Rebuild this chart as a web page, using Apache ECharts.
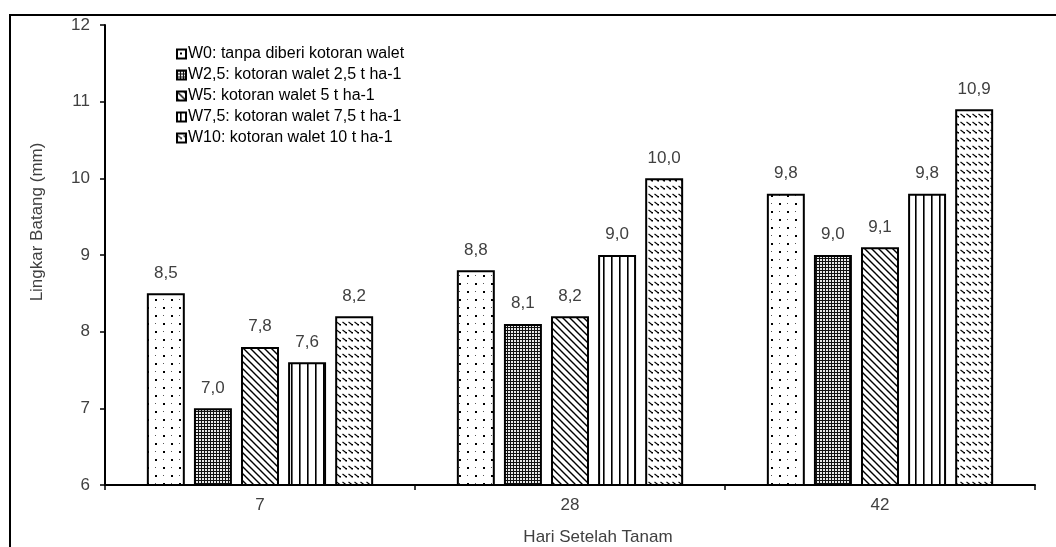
<!DOCTYPE html>
<html>
<head>
<meta charset="utf-8">
<script src="https://cdn.jsdelivr.net/npm/echarts@6/dist/echarts.min.js"></script>
<style>
  html, body { margin: 0; padding: 0; background: #fff; }
  #chart { width: 1056px; height: 547px; }
</style>
</head>
<body>
<div id="chart"></div>
<script>
// Days after planting (x categories)
const categories = ['7', '28', '42'];
// Treatment names shown in the legend
const seriesNames = [
  'W0: tanpa diberi kotoran walet',
  'W2,5: kotoran walet 2,5 t ha-1',
  'W5: kotoran walet 5 t ha-1',
  'W7,5: kotoran walet 7,5 t ha-1',
  'W10: kotoran walet 10 t ha-1'
];
// Stem circumference (mm) per treatment
const w0   = [8.5, 8.8, 9.8];
const w25  = [7.0, 8.1, 9.0];
const w5   = [7.8, 8.2, 9.1];
const w75  = [7.6, 9.0, 9.8];
const w10  = [8.2, 10.0, 10.9];
const yTicks = { min: 6, max: 12, interval: 1 };

// Hatch fills drawn on small tiles
function tile(w, h, draw) {
  const c = document.createElement('canvas');
  c.width = w; c.height = h;
  const g = c.getContext('2d');
  g.fillStyle = '#fff';
  g.fillRect(0, 0, w, h);
  draw(g);
  return { image: c, repeat: 'repeat' };
}
const patterns = [
  // sparse dots
  tile(16, 16, g => {
    g.fillStyle = '#000';
    g.fillRect(3, 3, 2, 2);
    g.fillRect(11, 11, 2, 2);
    g.fillStyle = '#555';
    g.fillRect(11, 3, 1, 1);
    g.fillRect(3, 11, 1, 1);
  }),
  // fine grid with light holes
  tile(3, 3, g => {
    g.fillStyle = '#111';
    g.fillRect(0, 0, 3, 3);
    g.fillStyle = '#e8e8e8';
    g.fillRect(1, 1, 2, 2);
  }),
  // diagonal lines (down to the right)
  tile(7, 7, g => {
    g.strokeStyle = '#000';
    g.lineWidth = 1.4;
    g.beginPath();
    g.moveTo(-1, -1); g.lineTo(8, 8);
    g.moveTo(-1, 6); g.lineTo(1, 8);
    g.moveTo(6, -1); g.lineTo(8, 1);
    g.stroke();
  }),
  // vertical lines
  tile(8, 8, g => {
    g.fillStyle = '#000';
    g.fillRect(3, 0, 1.6, 8);
  }),
  // short wavy dashes in rows
  tile(6, 8, g => {
    g.strokeStyle = '#000';
    g.lineWidth = 1.1;
    g.beginPath();
    g.moveTo(0.5, 2); g.lineTo(4.5, 5);
    g.stroke();
    g.fillStyle = '#000';
    g.fillRect(3.5, 4, 1.5, 1.5);
  })
];

const dataSets = [w0, w25, w5, w75, w10];
const textColor = '#404040';
const fontFamily = 'Liberation Sans, Arial, sans-serif';

const chart = echarts.init(document.getElementById('chart'), null, { renderer: 'canvas' });
chart.setOption({
  animation: false,
  backgroundColor: '#fff',
  textStyle: { fontFamily },
  graphic: [{
    type: 'rect',
    shape: { x: 10, y: 15, width: 1100, height: 600 },
    style: { fill: 'none', stroke: '#000', lineWidth: 2 },
    silent: true,
    z: -1
  }],
  legend: {
    orient: 'vertical',
    left: 171,
    top: 41,
    itemWidth: 9,
    itemHeight: 9,
    itemGap: 5,
    icon: 'rect',
    textStyle: { fontSize: 16, color: '#000', fontFamily, padding: [0, 0, 0, -3] },
    itemStyle: { borderColor: '#000', borderWidth: 2 },
    data: seriesNames
  },
  grid: {
    left: 105, right: 21, top: 25, bottom: 62,
    containLabel: false,
    outerBoundsMode: 'none'
  },
  xAxis: {
    type: 'category',
    data: categories,
    name: 'Hari Setelah Tanam',
    nameLocation: 'middle',
    nameGap: 44,
    nameTextStyle: { fontSize: 17, color: textColor, fontFamily, padding: [0, 0, 0, 56] },
    axisLine: { lineStyle: { color: '#000', width: 2 } },
    axisTick: { show: true, length: 5, lineStyle: { color: '#000', width: 1.5 } },
    axisLabel: { fontSize: 17, color: textColor, margin: 12 },
    splitLine: { show: false }
  },
  yAxis: {
    type: 'value',
    min: yTicks.min,
    max: yTicks.max,
    interval: yTicks.interval,
    name: 'Lingkar Batang (mm)',
    nameLocation: 'middle',
    nameGap: 59,
    nameTextStyle: { fontSize: 17, color: textColor, fontFamily, padding: [0, 0, 0, 66] },
    axisLine: { show: true, lineStyle: { color: '#000', width: 2 } },
    axisTick: { show: true, length: 5, lineStyle: { color: '#000', width: 1.5 } },
    axisLabel: { fontSize: 17, color: textColor, margin: 15 },
    splitLine: { show: false }
  },
  series: dataSets.map((d, i) => ({
    type: 'bar',
    name: seriesNames[i],
    data: d,
    barGap: '24%',
    barCategoryGap: '27%',
    itemStyle: { color: patterns[i], borderColor: '#000', borderWidth: 2 },
    label: {
      show: true,
      position: 'top',
      distance: 12,
      fontSize: 17,
      color: textColor,
      formatter: p => p.value.toFixed(1).replace('.', ',')
    }
  }))
});
</script>
</body>
</html>
